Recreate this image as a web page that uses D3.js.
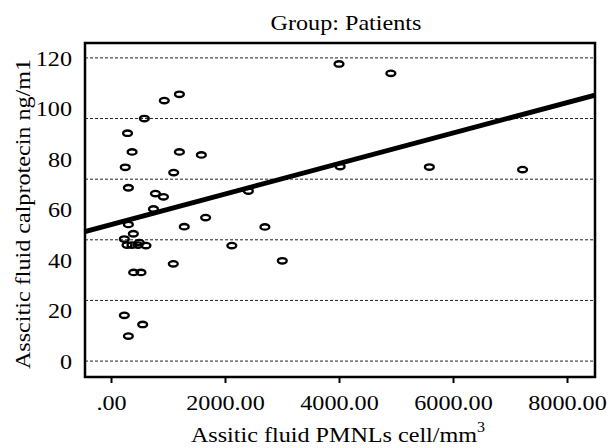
<!DOCTYPE html>
<html>
<head>
<meta charset="utf-8">
<script src="https://cdn.jsdelivr.net/npm/d3@7"></script>
<style>
  body { margin: 0; background: #fff; }
  text { font-family: "Liberation Serif", "Times New Roman", serif; fill: #000; }
</style>
</head>
<body>
<script>
"use strict";
(function () {

// data
const pmnl = [4000, 4910, 1200, 935, 585, 290, 370, 1200, 1585, 250, 1100, 4020, 5585, 7220,
  305, 780, 920, 2410, 745, 1660, 305, 1285, 2700, 392, 234, 281, 368, 474, 497, 614,
  2120, 1093, 3005, 398, 526, 234, 556, 305]
const calpro = [117.6, 113.9, 105.6, 103.1, 96.0, 90.2, 82.8, 82.8, 81.6, 76.7, 74.6, 77.0, 76.8, 75.8,
  68.6, 66.3, 65.0, 67.3, 60.2, 56.8, 54.1, 53.2, 53.1, 50.4, 48.3, 45.9, 45.9, 45.9, 46.9, 45.7,
  45.7, 38.5, 39.7, 35.1, 35.1, 18.1, 14.5, 9.9]
// fitted line, two ends
const fitX = [-456, 8491]
const fitY = [51.3, 105.3]

const xTicks = [0, 2000, 4000, 6000, 8000]
const yTicks = [0, 20, 40, 60, 80, 100, 120]
const gridVals = [0, 24, 48, 72, 96, 120]

const m = { width: 608, height: 448, left: 85, right: 595, top: 43, bottom: 377 }
const stretch = 'scale(1.15,1)'

const svg = d3.select("body").append('svg')
    .attr('width', m.width)
    .attr('height', m.height)

const x = d3.scaleLinear().domain([-456, 8491]).range([m.left, m.right])
const y = d3.scaleLinear().domain([-6.3, 125.9]).range([m.bottom, m.top])

// dashed grid
svg.append('g').selectAll('line')
    .data(gridVals)
    .enter()
    .append('line')
    .attr('x1', m.left)
    .attr('x2', m.right)
    .attr('y1', d => y(d))
    .attr('y2', d => y(d))
    .attr('stroke', '#222')
    .attr('stroke-width', 1)
    .attr('stroke-dasharray', '3,2')

// clip for the fit line
svg.append('clipPath').attr('id', 'plotclip')
    .append('rect')
    .attr('x', m.left).attr('y', m.top)
    .attr('width', m.right - m.left).attr('height', m.bottom - m.top)

const fit = fitX.map((d, i) => [d, fitY[i]])
svg.append('path')
    .datum(fit)
    .attr('clip-path', 'url(#plotclip)')
    .attr('fill', 'none')
    .attr('stroke', '#000')
    .attr('stroke-width', 5)
    .attr('d', d3.line().x(d => x(d[0])).y(d => y(d[1])))

// points
svg.append('g').selectAll('ellipse')
    .data(pmnl.map((d, i) => ({ x: d, y: calpro[i] })))
    .enter()
    .append('ellipse')
    .attr('cx', d => x(d.x))
    .attr('cy', d => y(d.y))
    .attr('rx', 4.4)
    .attr('ry', 2.7)
    .attr('fill', 'none')
    .attr('stroke', '#000')
    .attr('stroke-width', 2.4)

// frame
svg.append('rect')
    .attr('x', m.left).attr('y', m.top)
    .attr('width', m.right - m.left).attr('height', m.bottom - m.top)
    .attr('fill', 'none')
    .attr('stroke', '#000')
    .attr('stroke-width', 2.5)

// x axis
const xAxis = svg.append('g')
    .attr('transform', `translate(0,${m.bottom})`)
    .call(d3.axisBottom(x).tickValues(xTicks).tickSize(6)
        .tickFormat(d => d === 0 ? '.00' : d3.format('.2f')(d)))
xAxis.select('.domain').remove()
xAxis.selectAll('.tick line').attr('stroke', '#000').attr('stroke-width', 2)
xAxis.selectAll('.tick text')
    .attr('y', 33).attr('dy', 0)
    .attr('font-size', 21)
    .attr('transform', stretch)
    .style('font-family', '"Liberation Serif", serif')

// y axis
const yAxis = svg.append('g')
    .attr('transform', `translate(${m.left},0)`)
    .call(d3.axisLeft(y).tickValues(yTicks).tickSize(0))
yAxis.select('.domain').remove()
yAxis.selectAll('.tick text')
    .attr('x', -11.3)
    .attr('dy', '0.34em')
    .attr('font-size', 21)
    .attr('transform', stretch)
    .style('font-family', '"Liberation Serif", serif')

// title and labels
svg.append('text')
    .attr('transform', `translate(346,30) ${stretch}`)
    .attr('text-anchor', 'middle')
    .attr('font-size', 21)
    .text('Group: Patients')

svg.append('text')
    .attr('transform', `translate(30,214) rotate(-90) ${stretch}`)
    .attr('text-anchor', 'middle')
    .attr('font-size', 21)
    .text('Asscitic fluid calprotecin ng/m1')

const xl = svg.append('text')
    .attr('transform', `translate(338,442) ${stretch}`)
    .attr('text-anchor', 'middle')
    .attr('font-size', 21)
xl.append('tspan').text('Assitic fluid PMNLs cell/mm')
xl.append('tspan').attr('dy', -10).attr('font-size', 14).text('3')

})();
</script>
</body>
</html>
